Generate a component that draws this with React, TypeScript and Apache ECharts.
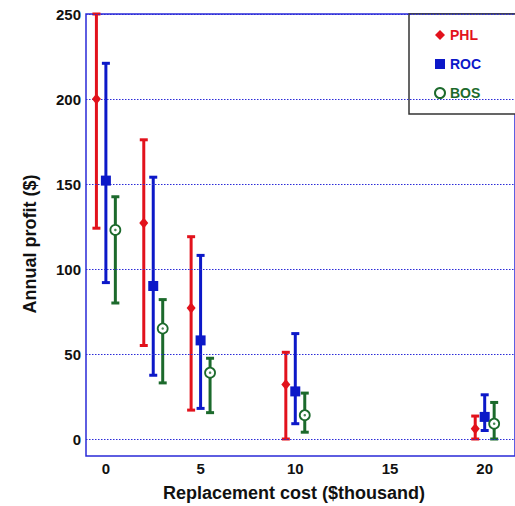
import React, { useEffect, useRef } from "react";
import * as echarts from "echarts";

const groupX = [0, 2.5, 5, 10, 20];
const cities = ["PHL", "ROC", "BOS"];
const phlMean = [200, 127, 77, 32, 6];
const phlLow = [124, 55, 17, 0, 0];
const phlHigh = [250, 176, 119, 51, 13.5];
const rocMean = [152, 90, 58, 28, 13];
const rocLow = [92, 37.5, 18, 9, 5];
const rocHigh = [221, 154, 108, 62, 26];
const bosMean = [123, 65, 39, 14, 9];
const bosLow = [80, 33, 15.5, 4, 0];
const bosHigh = [142.5, 82, 47.5, 27, 21.5];
const yTicks = [0, 50, 100, 150, 200, 250];
const xTicks = [0, 5, 10, 15, 20];

const FONT = "'Liberation Sans', Arial, sans-serif";
const RED = "#e2121c";
const BLUE = "#0c18c8";
const GREEN = "#1c6a2c";
const GRIDBLUE = "#2a2ad8";

export default function App() {
  const ref = useRef<HTMLDivElement>(null);
  useEffect(() => {
    if (!ref.current) return;
    const chart = echarts.init(ref.current, null, { renderer: "svg" });
    const specs = [
      { name: "PHL", color: RED, mean: phlMean, low: phlLow, high: phlHigh, off: -0.5, symbol: "diamond", size: [9, 11], fill: RED },
      { name: "ROC", color: BLUE, mean: rocMean, low: rocLow, high: rocHigh, off: 0, symbol: "rect", size: 10, fill: BLUE },
      { name: "BOS", color: GREEN, mean: bosMean, low: bosLow, high: bosHigh, off: 0.5, symbol: "circle", size: 10, fill: "#ffffff" },
    ];
    const series: any[] = [];
    specs.forEach((s) => {
      series.push({
        type: "custom",
        name: s.name + " range",
        data: groupX.map((x, i) => [x + s.off, s.low[i], s.high[i]]),
        encode: { x: 0, y: [1, 2] },
        z: 3,
        silent: true,
        renderItem: (params: any, api: any) => {
          const x = api.value(0);
          const lo = api.coord([x, api.value(1)]);
          const hi = api.coord([x, api.value(2)]);
          const hw = 4;
          const st = { stroke: s.color, lineWidth: 3 };
          return {
            type: "group",
            children: [
              { type: "line", shape: { x1: lo[0], y1: lo[1], x2: hi[0], y2: hi[1] }, style: st },
              { type: "line", shape: { x1: hi[0] - hw, y1: hi[1], x2: hi[0] + hw, y2: hi[1] }, style: st },
              { type: "line", shape: { x1: lo[0] - hw, y1: lo[1], x2: lo[0] + hw, y2: lo[1] }, style: st },
            ],
          };
        },
      });
      series.push({
        type: "scatter",
        name: s.name,
        data: groupX.map((x, i) => [x + s.off, s.mean[i]]),
        symbol: s.symbol,
        symbolSize: s.size,
        z: 5,
        itemStyle: { color: s.fill, borderColor: s.color, borderWidth: s.name === "BOS" ? 1.8 : 0, opacity: 1 },
      });
    });
    series.push({
      type: "scatter",
      name: "BOS dot",
      data: groupX.map((x, i) => [x + 0.5, bosMean[i]]),
      symbol: "circle",
      symbolSize: 2.5,
      z: 6,
      silent: true,
      itemStyle: { color: GREEN },
    });
    series.push({
      type: "line",
      name: "grid",
      data: [],
      silent: true,
      z: 1,
      markLine: {
        silent: true,
        symbol: "none",
        label: { show: false },
        lineStyle: { color: GRIDBLUE, type: [1.5, 1.5], width: 1 },
        data: yTicks.map((v) => ({ yAxis: v })),
      },
    });

    chart.setOption({
      animation: false,
      grid: {
        left: 86,
        top: 14,
        right: -5,
        bottom: 50,
        show: true,
        borderColor: GRIDBLUE,
        borderWidth: 1.5,
        backgroundColor: "transparent",
      },
      xAxis: {
        type: "value",
        min: -1.05,
        max: 21.6,
        axisLine: { show: false },
        axisTick: { show: false },
        splitLine: { show: false },
        axisLabel: {
          customValues: xTicks,
          margin: 5,
          color: "#111",
          fontWeight: "bold",
          fontSize: 15,
          fontFamily: FONT,
        },
      },
      yAxis: {
        type: "value",
        min: -10,
        max: 250,
        axisLine: { show: false },
        axisTick: { show: false },
        splitLine: { show: false },
        axisLabel: {
          customValues: yTicks,
          margin: 5,
          color: "#111",
          fontWeight: "bold",
          fontSize: 15,
          fontFamily: FONT,
        },
      },
      legend: {
        left: 409,
        top: 14,
        orient: "vertical",
        backgroundColor: "#ffffff",
        borderColor: "#333",
        borderWidth: 1.5,
        borderRadius: 0,
        padding: [14, 80, 14, 25],
        itemGap: 15,
        itemWidth: 10,
        itemHeight: 10,
        selectedMode: false,
        textStyle: { fontFamily: FONT, fontWeight: "bold", fontSize: 14 },
        data: [
          { name: "PHL", icon: "diamond", textStyle: { color: RED } },
          { name: "ROC", icon: "rect", textStyle: { color: BLUE } },
          { name: "BOS", icon: "circle", textStyle: { color: GREEN } },
        ],
      },
      graphic: [
        {
          type: "text",
          x: 30,
          y: 244,
          rotation: Math.PI / 2,
          style: {
            text: "Annual profit ($)",
            align: "center",
            verticalAlign: "middle",
            fontFamily: FONT,
            fontWeight: "bold",
            fontSize: 18,
            fill: "#111",
          },
        },
        {
          type: "text",
          x: 294,
          y: 493,
          style: {
            text: "Replacement cost ($thousand)",
            align: "center",
            verticalAlign: "middle",
            fontFamily: FONT,
            fontWeight: "bold",
            fontSize: 18,
            fill: "#111",
          },
        },
      ],
      series,
    });
    return () => chart.dispose();
  }, []);
  return <div ref={ref} style={{ width: 515, height: 506, position: "absolute", left: 0, top: 0 }} />;
}
